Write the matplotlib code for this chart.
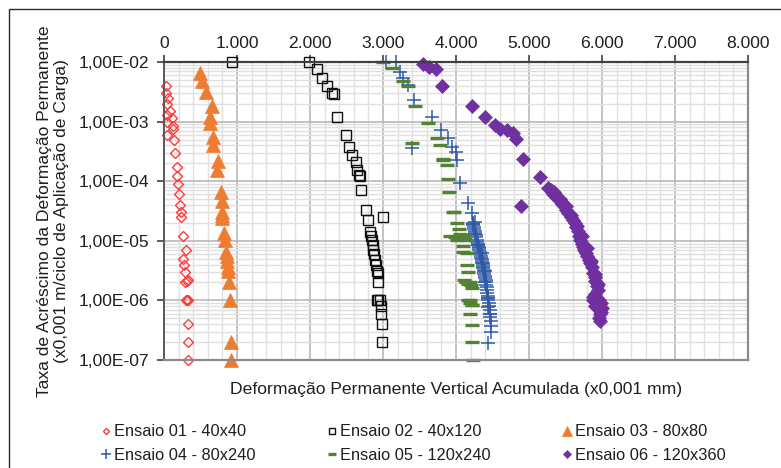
import matplotlib
matplotlib.use("Agg")
import matplotlib.pyplot as plt
from matplotlib.ticker import FuncFormatter, MultipleLocator, LogLocator, NullFormatter
from matplotlib.patches import Rectangle

plt.rcParams['font.family'] = ['Liberation Sans', 'DejaVu Sans']

# Accumulated permanent vertical deformation (x0,001 mm) and rate (x0,001 m/cycle)
x01 = [27, 27, 59, 45, 82, 37, 105, 45, 119, 127, 45, 137, 151, 174, 182, 196, 210, 219,
       229, 229, 264, 301, 256, 274, 288, 333, 288, 310, 301, 320, 333, 333, 333, 333]
y01 = [4e-3, 3e-3, 2.5e-3, 2e-3, 1.5e-3, 1.3e-3, 1.15e-3, 1e-3, 8.5e-4, 7.5e-4, 6e-4, 5e-4,
       3e-4, 1.7e-4, 1.2e-4, 9e-5, 6e-5, 4e-5, 3e-5, 2.5e-5, 1.2e-5, 7e-6, 5e-6, 4e-6, 3e-6,
       2.2e-6, 2e-6, 2.1e-6, 1e-6, 1e-6, 1e-6, 4e-7, 2e-7, 1e-7]

x02 = [935, 1991, 2092, 2169, 2237, 2297, 2329, 2366, 2493, 2539, 2580, 2626, 2640, 2671,
       2685, 2695, 2763, 2799, 2996, 2822, 2836, 2845, 2859, 2867, 2881, 2891, 2904, 2922,
       2930, 2936, 2913, 2935, 2959, 2969, 2969, 2987, 2987]
y02 = [1e-2, 1e-2, 7.6e-3, 5.3e-3, 4e-3, 3e-3, 2.9e-3, 1.2e-3, 6e-4, 3.7e-4, 2.8e-4, 2.1e-4,
       1.55e-4, 1.28e-4, 1.2e-4, 7.2e-5, 3.3e-5, 2.2e-5, 2.5e-5, 1.4e-5, 1.2e-5, 1.05e-5,
       8.6e-6, 7e-6, 5.9e-6, 4.8e-6, 4e-6, 3.1e-6, 2.9e-6, 2e-6, 1e-6, 1e-6, 1e-6, 8e-7,
       6e-7, 4e-7, 2e-7]

x03 = [493, 516, 575, 653, 630, 630, 675, 675, 744, 730, 777, 790, 790, 790, 790, 822, 836,
       849, 859, 867, 873, 881, 895, 904, 914, 914]
y03 = [6.5e-3, 4.8e-3, 3.1e-3, 1.8e-3, 1.2e-3, 9.3e-4, 5.6e-4, 4.1e-4, 2.2e-4, 1.55e-4,
       6.7e-5, 4.6e-5, 3.1e-5, 2.7e-5, 2.4e-5, 1.35e-5, 1.05e-5, 6.6e-6, 5.5e-6, 4.5e-6,
       3.7e-6, 3.1e-6, 2e-6, 1e-6, 2e-7, 1e-7]

x04 = [3041, 3178, 3233, 3278, 3347, 3429, 3398, 3667, 3795, 3895, 3941, 4000, 4018, 4055,
       4169, 4215, 4261, 4237, 4261, 4306, 4352, 4374, 4398, 4398, 4443, 4443, 4466, 4480,
       4480, 4443,
       4230, 4238, 4245, 4252, 4260, 4265, 4270, 4278, 4285, 4292, 4300, 4305, 4310, 4315,
       4320, 4328, 4335, 4340, 4345, 4350, 4355, 4360, 4365, 4370, 4375, 4380, 4385, 4390,
       4395, 4400, 4405, 4410, 4415, 4420, 4425, 4430, 4435, 4440, 4445, 4450, 4455, 4460,
       4465, 4470, 4475]
y04 = [1e-2, 1e-2, 6.9e-3, 5.3e-3, 4.1e-3, 2.3e-3, 3.6e-4, 1.2e-3, 7.2e-4, 5.3e-4, 3.8e-4,
       3.1e-4, 2.3e-4, 9.3e-5, 4.3e-5, 2.9e-5, 2.1e-5, 1.9e-5, 1.3e-5, 8.5e-6, 6.3e-6,
       4.3e-6, 3.1e-6, 2e-6, 1.1e-6, 7.9e-7, 5.8e-7, 3.7e-7, 2.9e-7, 1.95e-7,
       2e-5, 1.85e-5, 1.7e-5, 1.55e-5, 1.45e-5, 1.35e-5, 1.25e-5, 1.15e-5, 1.05e-5, 9.7e-6,
       9e-6, 8.5e-6, 8e-6, 7.5e-6, 7e-6, 6.5e-6, 6e-6, 5.6e-6, 5.2e-6, 4.9e-6, 4.6e-6,
       4.3e-6, 4e-6, 3.7e-6, 3.5e-6, 3.2e-6, 3e-6, 2.8e-6, 2.6e-6, 2.4e-6, 2.2e-6, 2e-6,
       1.8e-6, 1.65e-6, 1.5e-6, 1.35e-6, 1.2e-6, 1.1e-6, 1e-6, 9e-7, 8e-7, 7e-7, 6e-7,
       5.2e-7, 4.5e-7]

x05 = [3003, 3119, 3278, 3347, 3439, 3621, 3736, 3781, 3393, 3826, 3826, 3881, 3895, 3909,
       3973, 3963, 4010, 4046, 3918, 4100, 4124, 4100, 4100, 4147, 4147, 4169, 4192, 4215,
       4192, 4215, 4192, 4215, 4215, 4237,
       4060, 4090, 4130, 3980, 4020, 4110, 4140, 4170, 4200, 4160, 4190, 4220]
y05 = [1e-2, 7.8e-3, 4.8e-3, 3.9e-3, 1.85e-3, 9.4e-4, 5.4e-4, 4.1e-4, 4.3e-4, 2.4e-4,
       2.3e-4, 1.9e-4, 1.1e-4, 6.6e-5, 3.1e-5, 3e-5, 2e-5, 1.6e-5, 1.2e-5, 1.27e-5,
       1.05e-5, 8.1e-6, 6.6e-6, 6.3e-6, 4e-6, 3e-6, 2e-6, 1.6e-6, 1e-6, 8.5e-7, 6e-7,
       3.9e-7, 2e-7, 1e-7,
       1.3e-5, 1.2e-5, 1.1e-5, 1.15e-5, 1.05e-5, 2.2e-6, 2e-6, 1.9e-6, 1.8e-6, 1e-6,
       9e-7, 8.5e-7]

x06 = [3544, 3635, 3726, 3804, 4215, 4397, 4534, 4603, 4694, 4785, 4822, 4922, 5151, 5265,
       4887,
       5300, 5330, 5370, 5410, 5450, 5480, 5510, 5540, 5570, 5600, 5630, 5650, 5670, 5690,
       5700, 5720, 5740, 5760, 5780, 5800, 5820, 5840, 5860, 5880, 5900, 5910, 5930, 5940,
       5900, 5870, 5880, 5930, 5960, 5990, 5950, 5910, 6000, 5980, 5970, 5960, 5970,
       5340, 5420, 5500, 5580, 5660, 5730, 5790, 5850, 5900, 5940]
y06 = [9.2e-3, 8.3e-3, 7.6e-3, 3.9e-3, 1.85e-3, 1.2e-3, 8.8e-4, 7.6e-4, 7.3e-4, 6.4e-4,
       5.1e-4, 2.4e-4, 1.16e-4, 7.6e-5, 3.9e-5,
       7e-5, 6.2e-5, 5.5e-5, 4.8e-5, 4.2e-5, 3.8e-5, 3.3e-5, 2.9e-5, 2.5e-5, 2.2e-5, 2e-5,
       1.7e-5, 1.45e-5, 1.2e-5, 1.05e-5, 9e-6, 8e-6, 7e-6, 6.2e-6, 5.5e-6, 4.8e-6, 4.2e-6,
       3.6e-6, 2.9e-6, 2.5e-6, 2.1e-6, 1.75e-6, 1.5e-6, 1.3e-6, 1.15e-6, 1e-6, 1.1e-6,
       1e-6, 9e-7, 8.5e-7, 8e-7, 7.5e-7, 6.5e-7, 6e-7, 5e-7, 4.5e-7,
       6.5e-5, 5e-5, 3.8e-5, 2.7e-5, 1.8e-5, 1.2e-5, 7.5e-6, 4.5e-6, 2.8e-6, 1.9e-6]

labels = ["Ensaio 01 - 40x40", "Ensaio 02 - 40x120", "Ensaio 03 - 80x80",
          "Ensaio 04 - 80x240", "Ensaio 05 - 120x240", "Ensaio 06 - 120x360"]

W, H = 781, 468
FS = 12.6
fig = plt.figure(figsize=(W / 100, H / 100), dpi=100)
ax = fig.add_axes([164 / W, 1 - 360 / H, (748 - 164) / W, (360 - 62) / H])

TXT = '#1f1f1f'
common = dict(linestyle='none', clip_on=False)
h1, = ax.plot(x01, y01, marker='D', ms=5.0, mfc='none', mec='#ff3b3b', mew=1.0, **common)
h2, = ax.plot(x02, y02, marker='s', ms=6.6, mfc='none', mec='#111111', mew=1.0, **common)
h3, = ax.plot(x03, y03, marker='^', ms=10.5, mfc='#ed7d31', mec='#ed7d31', mew=0.5, **common)
h4, = ax.plot(x04, y04, marker='+', ms=10.5, mec='#2f5aa6', mew=1.1, **common)
h5, = ax.plot(x05, y05, marker='_', ms=10, mec='#548235', mew=2.4, **common)
h6, = ax.plot(x06, y06, marker='D', ms=7.2, mfc='#7030a0', mec='#7030a0', mew=0.5, **common)

ax.set_yscale('log')
ax.set_xlim(0, 8000)
ax.set_ylim(1e-7, 1e-2)

ax.xaxis.tick_top()
ax.xaxis.set_major_locator(MultipleLocator(1000))
ax.xaxis.set_minor_locator(MultipleLocator(200))
ax.xaxis.set_major_formatter(FuncFormatter(lambda v, p: f"{int(round(v)):,}".replace(',', '.')))
ax.yaxis.set_major_locator(LogLocator(base=10, numticks=10))
ax.yaxis.set_minor_locator(LogLocator(base=10, subs=range(2, 10), numticks=20))
ax.yaxis.set_minor_formatter(NullFormatter())
ax.yaxis.set_major_formatter(FuncFormatter(lambda v, p: f"{v:.2E}".replace('.', ',')))

ax.tick_params(axis='both', which='major', labelsize=FS, colors='#404040', labelcolor=TXT,
               length=5, width=1.2, direction='out')
ax.tick_params(axis='x', which='major', pad=3)
ax.tick_params(axis='y', which='major', pad=5.5)
ax.tick_params(axis='both', which='minor', length=0)

ax.grid(which='major', color='#b3b3b3', linewidth=1.1)
ax.grid(which='minor', color='#e0e0e0', linewidth=1.0)
ax.set_axisbelow(True)

ax.spines['top'].set_color('#404040')
ax.spines['top'].set_linewidth(1.6)
ax.spines['left'].set_color('#595959')
ax.spines['left'].set_linewidth(1.4)
for s in ('bottom', 'right'):
    ax.spines[s].set_color('#8c8c8c')
    ax.spines[s].set_linewidth(1.6)

ax.set_xlabel("Deformação Permanente Vertical Acumulada (x0,001 mm)", fontsize=FS, color=TXT)
ax.xaxis.set_label_position('bottom')
ax.xaxis.set_label_coords(0.5, -0.075)
ax.set_ylabel("Taxa de Acréscimo da Deformação Permanente\n(x0,001 m/ciclo de Aplicação de Carga)",
              fontsize=FS, color=TXT, linespacing=1.15)
ax.yaxis.set_label_coords(-0.163, 0.5)

handles = [h1, h4, h2, h5, h3, h6]
leg_labels = [labels[0], labels[3], labels[1], labels[4], labels[2], labels[5]]
fig.legend(handles, leg_labels, loc='center', bbox_to_anchor=(413 / W, 1 - 443.5 / H),
           ncol=3, frameon=False, fontsize=11.8, markerscale=0.62, handlelength=0.7,
           handletextpad=0.15, columnspacing=4.3, labelspacing=0.5, labelcolor=TXT)

fig.patches.append(Rectangle((9 / W, -0.05), 1.0, (H - 9) / H + 0.05, transform=fig.transFigure,
                             fill=False, edgecolor='#2b2b2b', linewidth=1.0))

fig.savefig("out.png", dpi=100)
